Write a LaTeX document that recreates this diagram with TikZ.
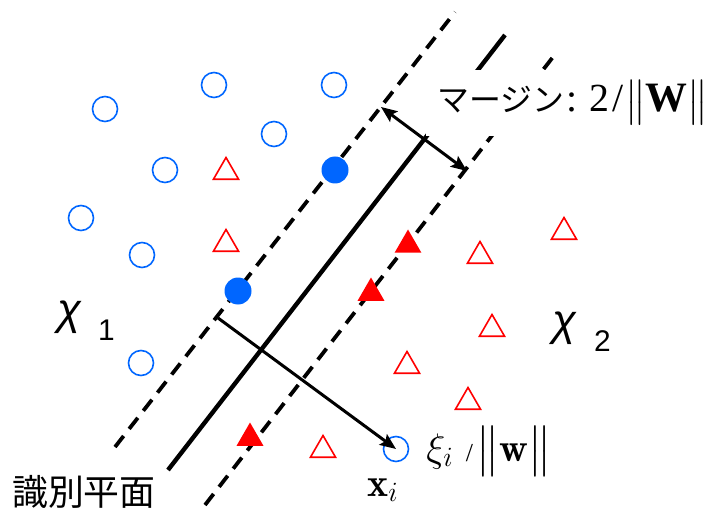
\RequirePackage{fix-cm}
\documentclass[tikz,border=0pt]{standalone}
\usepackage{amsmath}
\usepackage{graphicx}
\usepackage{fontspec}
\usetikzlibrary{arrows.meta,shapes.geometric}
\newfontfamily\jpfont{Noto Sans CJK JP}
\newfontfamily\lsans{Liberation Sans}
\newfontfamily\lserif{Liberation Serif}
\definecolor{ptblue}{RGB}{0,102,255}
\definecolor{ptred}{RGB}{255,0,0}
\newcommand{\bignorm}{\scalebox{1.8}{\fontsize{20}{20}\selectfont$\big\|$}}
\tikzset{
  cls1/.style={circle,draw=ptblue,line width=1.6bp,minimum size=25bp,inner sep=0pt},
  sv1/.style={circle,fill=ptblue,minimum size=27bp,inner sep=0pt},
  cls2/.style={regular polygon,regular polygon sides=3,draw=ptred,line width=1.6bp,
    minimum size=29bp,inner sep=0pt},
  sv2/.style={regular polygon,regular polygon sides=3,fill=ptred,minimum size=31bp,inner sep=0pt},
  marginline/.style={line width=3.8bp,dash pattern=on 14bp off 9bp},
  hyperline/.style={line width=4.4bp},
  vec/.style={line width=3bp,>={Stealth[length=16bp,width=13bp,inset=3bp]}}
}
\begin{document}
\begin{tikzpicture}[x=1bp,y=-1bp]
        \useasboundingbox (0,0) rectangle (706,514);
        % Margin boundaries and separating plane
        \draw[marginline] (115,447) -- (455,12);
        \draw[hyperline] (168,470) -- (505,35);
        \draw[marginline] (205,505) -- (553,57);
        % Class 1 (circles)
        \node[cls1] (c1) at (105,109) {};
        \node[cls1] (c2) at (214,85) {};
        \node[cls1] (c3) at (334,85) {};
        \node[cls1] (c4) at (274,134) {};
        \node[cls1] (c5) at (165,170) {};
        \node[cls1] (c6) at (81,218) {};
        \node[cls1] (c7) at (142,255) {};
        \node[cls1] (c8) at (141,363) {};
        \node[cls1] (xi) at (396,449) {};
        \node[sv1] (s1) at (335,170) {};
        \node[sv1] (s2) at (238,291) {};
        % Class 2 (triangles)
        \node[cls2] (t1) at (226,172) {};
        \node[cls2] (t2) at (226,244) {};
        \node[cls2] (t3) at (480,256) {};
        \node[cls2] (t4) at (564,232) {};
        \node[cls2] (t5) at (492,329) {};
        \node[cls2] (t6) at (407,366) {};
        \node[cls2] (t7) at (468,402) {};
        \node[cls2] (t8) at (323,450) {};
        \node[sv2] (u1) at (408,245) {};
        \node[sv2] (u2) at (371,293) {};
        \node[sv2] (u3) at (250,438) {};
        % Margin label
        \node[fill=white,anchor=west,inner xsep=11bp,minimum height=66bp] (mlabel) at (426,103)
          {\fontsize{32}{32}\selectfont\jpfont マージン\fontsize{40}{40}\selectfont\lserif
           \hspace{2bp}:\hspace{12bp}2\hspace{3bp}/\hspace{2bp}\bignorm
           {\fontsize{42}{42}\selectfont\bfseries W}\bignorm};
        % Arrows
        \coordinate (m1) at (381,107);
        \coordinate (m2) at (467,171);
        \draw[vec,<->] (m1) -- (m2);
        \coordinate (p1) at (218,318);
        \draw[vec,->] (p1) -- (xi.center);
        % Labels
        \node[anchor=base west,inner sep=0pt] (chi1) at (57,324)
          {\fontsize{44}{44}\selectfont\lsans\itshape χ\hspace{17bp}\upshape
           \fontsize{30}{30}\selectfont\raisebox{-16bp}{1}};
        \node[anchor=base west,inner sep=0pt] (chi2) at (552,335)
          {\fontsize{44}{44}\selectfont\lsans\itshape χ\hspace{18bp}\upshape
           \fontsize{30}{30}\selectfont\raisebox{-16bp}{2}};
        \node[anchor=base west,inner sep=0pt,scale=2] (xilabel) at (426,461)
          {\fontsize{20}{20}\selectfont$\xi_i$\hspace{6bp}{\fontsize{13}{13}\selectfont\lserif /}\hspace{2bp}$\big\|\mathbf{w}\big\|$};
        \node[anchor=base west,inner sep=0pt,scale=2] (xlabel) at (367,496)
          {\fontsize{20}{20}\selectfont$\mathbf{x}_i$};
        \node[anchor=base west,inner sep=0pt] (plane) at (12,505)
          {\fontsize{36}{36}\selectfont\jpfont 識別平面};
      \end{tikzpicture}
\end{document}
